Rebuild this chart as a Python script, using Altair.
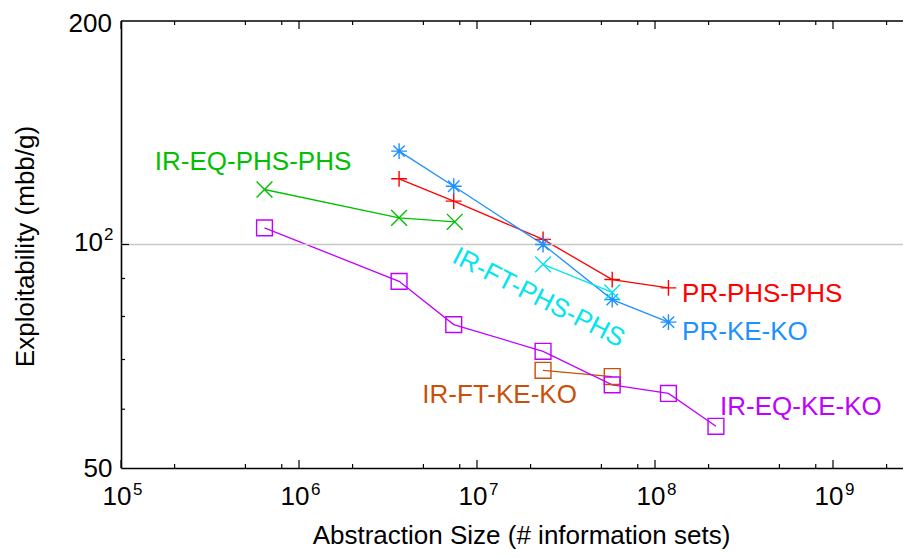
import altair as alt
import pandas as pd

# ---------------- data ----------------
series_names = ["IR-EQ-PHS-PHS", "PR-PHS-PHS", "PR-KE-KO",
                "IR-FT-PHS-PHS", "IR-FT-KE-KO", "IR-EQ-KE-KO"]
series_colors = ["#00c000", "#ff0000", "#1e90ff", "#00e5ee", "#c8500a", "#c000ff"]

ir_eq_phs_x = [6.4e5, 3.65e6, 7.5e6]
ir_eq_phs_y = [118.6, 108.6, 107.3]

pr_phs_x = [3.65e6, 7.4e6, 2.35e7, 5.75e7, 1.19e8]
pr_phs_y = [122.6, 114.4, 101.6, 89.7, 87.4]

pr_ke_x = [3.65e6, 7.4e6, 2.35e7, 5.75e7, 1.19e8]
pr_ke_y = [133.6, 119.8, 100.0, 84.3, 78.6]

ir_ft_phs_x = [2.35e7, 5.75e7]
ir_ft_phs_y = [94.0, 86.2]

ir_ft_ke_x = [2.35e7, 5.75e7]
ir_ft_ke_y = [67.7, 66.4]

ir_eq_ke_x = [6.4e5, 3.65e6, 7.4e6, 2.35e7, 5.75e7, 1.19e8, 2.2e8]
ir_eq_ke_y = [105.3, 89.2, 78.0, 71.8, 64.7, 63.0, 56.9]

# label anchors (data coordinates)
label_names = ["IR-EQ-PHS-PHS", "IR-FT-KE-KO", "IR-FT-PHS-PHS",
               "PR-PHS-PHS", "PR-KE-KO", "IR-EQ-KE-KO"]
label_x = [5.52e5, 1.34e7, 2.22e7, 1.42e8, 1.42e8, 2.32e8]
label_y = [129.0, 62.8, 84.8, 85.9, 76.3, 60.5]
label_angle = [0, 0, 27, 0, 0, 0]
label_align = ["center", "center", "center", "left", "left", "left"]

# axis ticks / labels
x_major_ticks = [1e5, 1e6, 1e7, 1e8, 1e9]
x_exponents = ["5", "6", "7", "8", "9"]
x_minor_ticks = [2e5, 5e5, 8e5, 2e6, 5e6, 8e6, 2e7, 5e7, 8e7, 2e8, 5e8, 8e8, 2e9]
y_minor_ticks = [60, 70, 80, 90]
y_major_ticks = [100]
y_axis_labels = [50]
y_top_value = [200]
y_top_text = ["200"]
y_power_value = [100]
y_power_base = ["10"]
y_power_exp = ["2"]

# ---------------- layout ----------------
W, H = 782, 447
FONT = "Liberation Sans"
x_max = 10 ** (5 + W / 178.0)

xs = [ir_eq_phs_x, pr_phs_x, pr_ke_x, ir_ft_phs_x, ir_ft_ke_x, ir_eq_ke_x]
ys = [ir_eq_phs_y, pr_phs_y, pr_ke_y, ir_ft_phs_y, ir_ft_ke_y, ir_eq_ke_y]
rows = []
for name, xv, yv in zip(series_names, xs, ys):
    for i, (a, b) in enumerate(zip(xv, yv)):
        rows.append({"series": name, "x": a, "y": b, "order": i})
df = pd.DataFrame(rows)

labels_df = pd.DataFrame({"series": label_names, "x": label_x, "y": label_y,
                          "angle": label_angle, "align": label_align})

X_PATH = "M-1,-1L1,1M-1,1L1,-1"
PLUS_PATH = "M-1,0L1,0M0,-1L0,1"
STAR_PATH = "M-1,0L1,0M0,-1L0,1M-0.72,-0.72L0.72,0.72M-0.72,0.72L0.72,-0.72"
SQ_PATH = "M-1,-1L1,-1L1,1L-1,1Z"
shape_range = [X_PATH, PLUS_PATH, STAR_PATH, X_PATH, SQ_PATH, SQ_PATH]

xscale = alt.Scale(type="log", domain=[1e5, x_max], nice=False)
yscale = alt.Scale(type="log", domain=[50, 200], nice=False)
color = alt.Color("series:N", scale=alt.Scale(domain=series_names, range=series_colors), legend=None)

x_axis = alt.Axis(
    values=x_major_ticks,
    labelExpr="'10'",
    title="Abstraction Size (# information sets)",
    titleX=400, titleY=75, titleBaseline="alphabetic", titleAlign="center",
    labelFlush=False, labelOverlap=False, labelBound=False,
    labelPadding=36, labelBaseline="alphabetic", labelAlign="right", labelOffset=10,
)
y_axis = alt.Axis(
    values=y_axis_labels,
    labelExpr="format(datum.value, 'd')",
    title="Exploitability (mbb/g)",
    titleX=-88, titleY=225, titleAngle=270, titleAlign="center", titleBaseline="alphabetic",
    labelFlush=False, labelOverlap=False, labelBound=False,
    labelPadding=9,
)

X = lambda f: alt.X(f, scale=xscale, axis=x_axis)
Y = lambda f: alt.Y(f, scale=yscale, axis=y_axis)

grid = alt.Chart(pd.DataFrame({"v": y_major_ticks})).mark_rule(
    color="#c8c8c8", strokeWidth=1.5
).encode(y=Y("v:Q"), x=alt.value(0), x2=alt.value(W))

lines = alt.Chart(df).mark_line(strokeWidth=1.3).encode(
    x=X("x:Q"),
    y=Y("y:Q"),
    color=color,
    order="order:Q",
    detail="series:N",
)
points = alt.Chart(df).mark_point(filled=False, strokeWidth=1.4, size=250, opacity=1).encode(
    x=X("x:Q"),
    y=Y("y:Q"),
    color=color,
    shape=alt.Shape("series:N", scale=alt.Scale(domain=series_names, range=shape_range), legend=None),
)

def text_layer(align):
    sub = labels_df[labels_df["align"] == align]
    return alt.Chart(sub).mark_text(font=FONT, fontSize=26, align=align, baseline="middle").encode(
        x=X("x:Q"),
        y=Y("y:Q"),
        text="series:N",
        angle=alt.Angle("angle:Q", scale=None),
        color=color,
    )

def xtick_layer(vals, length, top):
    if top:
        y0, y1 = 0, length
    else:
        y0, y1 = H, H - length
    return alt.Chart(pd.DataFrame({"v": vals})).mark_rule(color="black", strokeWidth=1.2).encode(
        x=X("v:Q"), y=alt.value(y0), y2=alt.value(y1))

def ytick_layer(vals, length):
    return alt.Chart(pd.DataFrame({"v": vals})).mark_rule(color="black", strokeWidth=1.2).encode(
        y=Y("v:Q"), x=alt.value(0), x2=alt.value(length))

top_border = alt.Chart(pd.DataFrame({"a": [0]})).mark_rule(color="black", strokeWidth=1.6).encode(
    x=alt.value(0), x2=alt.value(W), y=alt.value(0))

# superscript exponents of the x tick labels
x_exp = alt.Chart(pd.DataFrame({"v": x_major_ticks, "e": x_exponents})).mark_text(
    font=FONT, fontSize=17, align="left", baseline="alphabetic", dx=12, color="black"
).encode(x=X("v:Q"), y=alt.value(H + 27), text="e:N")

# y tick label 200 (nudged to stay inside the page)
y_top = alt.Chart(pd.DataFrame({"v": y_top_value, "t": y_top_text})).mark_text(
    font=FONT, fontSize=26, align="right", baseline="middle", dy=3, color="black"
).encode(y=Y("v:Q"), x=alt.value(-9), text="t:N")

# y tick label 10^2 (base and exponent)
ypow = pd.DataFrame({"v": y_power_value, "b": y_power_base, "e": y_power_exp})
y_base = alt.Chart(ypow).mark_text(
    font=FONT, fontSize=26, align="right", baseline="middle", dy=-2, color="black"
).encode(y=Y("v:Q"), x=alt.value(-18), text="b:N")
y_exp = alt.Chart(ypow).mark_text(
    font=FONT, fontSize=17, align="left", baseline="alphabetic", dy=-5, color="black"
).encode(y=Y("v:Q"), x=alt.value(-17), text="e:N")

chart = alt.layer(
    lines,
    grid,
    xtick_layer(x_major_ticks, 8, False), xtick_layer(x_minor_ticks, 4, False),
    xtick_layer(x_major_ticks, 8, True), xtick_layer(x_minor_ticks, 4, True),
    ytick_layer(y_minor_ticks, 4), ytick_layer(y_major_ticks, 8),
    top_border,
    points,
    text_layer("center"), text_layer("left"),
    x_exp, y_top, y_base, y_exp,
).properties(
    width=W, height=H,
    autosize=alt.AutoSizeParams(type="none"),
    padding={"left": 113, "top": 13, "right": 0, "bottom": 82},
    background="white",
).configure_view(stroke=None).configure_axis(
    grid=False, ticks=False, tickSize=0,
    domainColor="black", domainWidth=1.6,
    labelFont=FONT, labelFontSize=26, labelColor="black",
    titleFont=FONT, titleFontSize=26, titleFontWeight="normal", titleColor="black",
)

chart.save("out.html", embed_options={"renderer": "svg", "actions": False})
